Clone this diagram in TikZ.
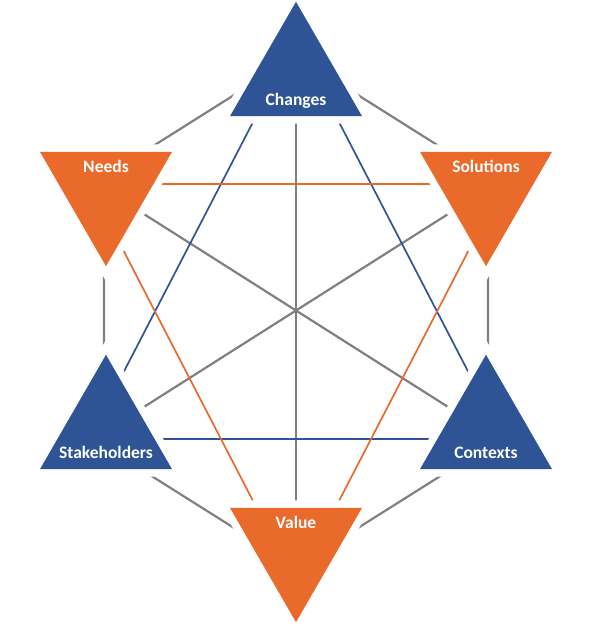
\documentclass[tikz,border=0pt]{standalone}
\usepackage{fontspec}
\setmainfont{Carlito}
\usetikzlibrary{shapes.geometric,backgrounds}
\definecolor{chgblue}{RGB}{47,84,150}
\definecolor{valorange}{RGB}{233,106,42}
\definecolor{linegray}{RGB}{128,128,128}

\begin{document}
\begin{tikzpicture}[x=1pt,y=-1pt,
  tri/.style={regular polygon,regular polygon sides=3,minimum size=152.4pt,
    inner sep=0pt,outer sep=0pt,preaction={draw=white,line width=15pt}},
  uptri/.style={tri,fill=chgblue},
  downtri/.style={tri,shape border rotate=180,fill=valorange},
  grayline/.style={draw=linegray,line width=2.2pt},
  blueline/.style={draw=chgblue,line width=1.7pt},
  orangeline/.style={draw=valorange,line width=1.7pt},
  lbl/.style={anchor=base,text=white,inner sep=0pt,font=\bfseries\fontsize{17.5}{20}\selectfont}]
\useasboundingbox (0,0) rectangle (592,635);
% 六个三角形（蓝色朝上，橙色朝下）
\node[uptri]   (chg) at (296,78)  {};
\node[downtri] (nd)  at (106,190) {};
\node[downtri] (sol) at (486,190) {};
\node[uptri]   (stk) at (106,431) {};
\node[uptri]   (ctx) at (486,431) {};
\node[downtri] (val) at (296,546) {};
% 标签
\node[lbl] (chglbl) at ([yshift=-27pt]chg.center) {Changes};
\node[lbl] (ndlbl)  at ([yshift=18pt]nd.center)   {Needs};
\node[lbl] (sollbl) at ([yshift=18pt]sol.center)  {Solutions};
\node[lbl] (stklbl) at ([yshift=-27pt]stk.center) {Stakeholders};
\node[lbl] (ctxlbl) at ([yshift=-27pt]ctx.center) {Contexts};
\node[lbl] (vallbl) at ([yshift=18pt]val.center)  {Value};
% 六边形角点与星形顶点
\coordinate (hchg) at (296,56);
\coordinate (hnd)  at (104,177);
\coordinate (hstk) at (104,446);
\coordinate (hval) at (296,567);
\coordinate (hctx) at (488,446);
\coordinate (hsol) at (488,177);
\coordinate (chgtip) at (296,39);
\coordinate (stktip) at (89,439);
\coordinate (ctxtip) at (503,439);
\coordinate (ndtip)  at (89,184);
\coordinate (soltip) at (503,184);
\coordinate (valtip) at (296,584);
\begin{scope}[on background layer]
% 外圈（灰）
\draw[grayline] (hchg) -- (hnd) -- (hstk) -- (hval) -- (hctx) -- (hsol) -- cycle;
% 三条对角线（灰）
\draw[grayline] (chg.center) -- (val.center);
\draw[grayline] (nd.center) -- (ctx.center);
\draw[grayline] (sol.center) -- (stk.center);
% 蓝色三角形连线
\draw[blueline] (chgtip) -- (stktip) -- (ctxtip) -- cycle;
% 橙色三角形连线
\draw[orangeline] (ndtip) -- (soltip) -- (valtip) -- cycle;
\end{scope}
\end{tikzpicture}
\end{document}
